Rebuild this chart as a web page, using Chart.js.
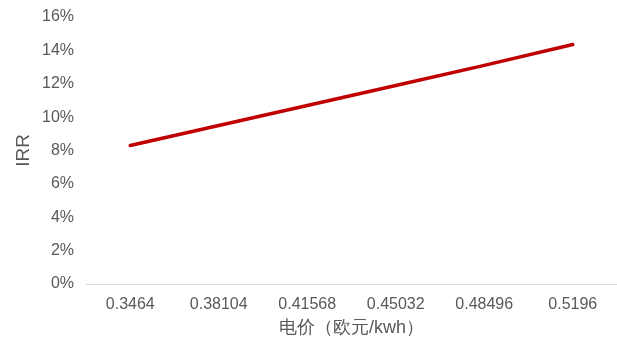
<!DOCTYPE html>
<html>
<head>
<meta charset="utf-8">
<script src="https://cdn.jsdelivr.net/npm/chart.js@4/dist/chart.umd.min.js"></script>
<style>
  html, body { margin: 0; padding: 0; background: #fff; }
  #wrap { width: 617px; height: 343px; }
</style>
</head>
<body>
<div id="wrap"><canvas id="irrChart"></canvas></div>
<script>
// Electricity price (EUR/kWh) categories and IRR values
const prices = ['0.3464', '0.38104', '0.41568', '0.45032', '0.48496', '0.5196'];
const irrValues = [0.083, 0.095, 0.107, 0.119, 0.131, 0.1435];
const yTicks = [0, 0.02, 0.04, 0.06, 0.08, 0.10, 0.12, 0.14, 0.16];

const fontFamily = 'Liberation Sans, Arial, sans-serif';
const labelFont = { family: fontFamily, size: 16 };

const ctx = document.getElementById('irrChart').getContext('2d');
const irrChart = new Chart(ctx, {
    type: 'line',
    data: {
        labels: prices,
        datasets: [{
            label: 'IRR',
            data: irrValues,
            borderColor: '#C00000',
            borderWidth: 3.5,
            borderCapStyle: 'round',
            pointRadius: 0,
            tension: 0,
            fill: false
        }]
    },
    options: {
        responsive: true,
        maintainAspectRatio: false,
        animation: false,
        layout: { padding: { top: 17, right: 0, left: 0, bottom: 0 } },
        plugins: { legend: { display: false }, tooltip: { enabled: false } },
        scales: {
            x: {
                offset: true,
                grid: { display: false },
                border: { display: false },
                ticks: { color: '#595959', font: labelFont, padding: 3, maxRotation: 0 },
                title: { display: true, text: '电价（欧元/kwh）', color: '#595959', font: { family: fontFamily, size: 18 }, padding: { top: 2, bottom: 4 } },
                afterFit: scale => { scale.height = 59; }
            },
            y: {
                min: 0,
                max: 0.16,
                afterBuildTicks: scale => { scale.ticks = yTicks.map(v => ({ value: v })); },
                grid: {
                    drawTicks: false,
                    lineWidth: 1,
                    color: c => (c.tick && c.tick.value === 0 ? '#d9d9d9' : 'rgba(0,0,0,0)')
                },
                border: { display: false },
                ticks: {
                    color: '#595959',
                    font: labelFont,
                    padding: 12,
                    callback: v => Math.round(v * 100) + '%'
                },
                title: { display: true, text: 'IRR', color: '#595959', font: { family: fontFamily, size: 19 }, padding: { top: 12, bottom: 6 } },
                afterFit: scale => { scale.width = 86; scale.paddingTop = 0; scale.paddingBottom = 0; }
            }
        }
    }
});
</script>
</body>
</html>
